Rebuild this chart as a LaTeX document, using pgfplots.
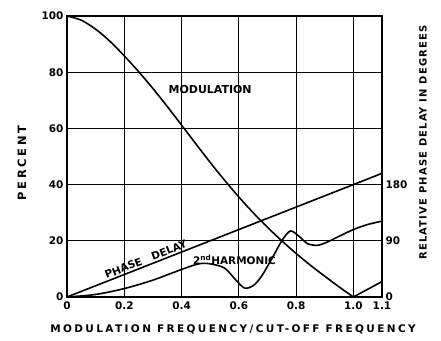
\documentclass[border=0pt]{standalone}
\usepackage{pgfplots}
\pgfplotsset{compat=1.18}
\usepackage{fontspec}
\setmainfont{DejaVu Sans}
\newfontfamily\widelbl[LetterSpace=23]{DejaVu Sans}
\newfontfamily\midlbl[LetterSpace=12]{DejaVu Sans}

% in percent of the left axis
\pgfplotstableread{
x y
0 100
0.05 98.5
0.1 95.3
0.15 91
0.2 85.8
0.25 80.2
0.3 74.2
0.35 67.8
0.4 61.2
0.45 54.5
0.5 47.9
0.55 41.6
0.6 35.6
0.65 30.0
0.7 24.8
0.75 20.0
0.8 15.5
0.85 11.3
0.9 7.4
0.95 3.6
1.0 0
}\modulation

\pgfplotstableread{
x y
1.0 0
1.1 5.5
}\modulationtail

\pgfplotstableread{
x y
0 0
0.1 0.9
0.2 3
0.3 6
0.4 9.8
0.46 11.8
0.5 11.8
0.55 10.3
0.59 6
0.62 3.2
0.65 4
0.68 7.5
0.72 14.5
0.75 20
0.78 23.5
0.81 21.6
0.84 19
0.875 18.4
0.91 19.6
0.95 21.6
1.0 24
1.05 25.8
1.1 27
}\harmonic

\pgfplotstableread{
x y
0 0
1.1 44
}\phasedelay

\begin{document}
\begin{tikzpicture}
\path[use as bounding box] (-67bp,-44bp) rectangle (374bp,297bp);
\begin{axis}[
    scale only axis, width=315bp, height=281bp,
    xmin=0, xmax=1.1, ymin=0, ymax=100,
    xtick={0,0.2,0.4,0.6,0.8,1.0,1.1},
    xticklabels={0,0.2,0.4,0.6,0.8,1.0,1.1},
    ytick={0,20,40,60,80,100},
    grid=major, major grid style={black, line width=0.8pt},
    major tick length=0pt,
    axis line style={line width=1.2pt},
    tick label style={font=\bfseries\fontsize{10.5}{12}\selectfont},
    xticklabel style={yshift=-1bp},
    /pgf/number format/assume math mode=true,
    clip=false
]
\addplot[line width=1.6pt, smooth, tension=0.5] table {\modulation};
\addplot[line width=1.6pt] table {\modulationtail};
\addplot[line width=1.6pt] table {\phasedelay};
\addplot[line width=1.6pt, smooth, tension=0.5] table {\harmonic};

\node[font=\bfseries\fontsize{11}{12}\selectfont] at (axis cs:0.5,74) {MODULATION};
\node[font=\bfseries\fontsize{10.5}{12}\selectfont, rotate=21.7, anchor=base] at (axis cs:0.28,12.2) {PHASE\ \ \ DELAY};
\node[font=\bfseries\fontsize{10.5}{12}\selectfont, anchor=base] at (axis cs:0.585,11.6) {2\textsuperscript{nd}HARMONIC};

\node[font=\bfseries\widelbl\fontsize{10.5}{12}\selectfont] at (rel axis cs:0.527,-0.117) {MODULATION FREQUENCY/CUT-OFF FREQUENCY};
\node[font=\bfseries\widelbl\fontsize{11.5}{12}\selectfont, rotate=90] at (rel axis cs:-0.143,0.477) {PERCENT};
\node[font=\bfseries\midlbl\fontsize{10}{12}\selectfont, rotate=90] at (rel axis cs:1.13,0.55) {RELATIVE PHASE DELAY IN DEGREES};
\end{axis}
\begin{axis}[
    scale only axis, width=315bp, height=281bp,
    xmin=0, xmax=1.1, ymin=0, ymax=450,
    axis x line=none, axis y line*=right,
    ytick={0,90,180},
    major tick length=0pt,
    axis line style={line width=1.2pt},
    tick label style={font=\bfseries\fontsize{10.5}{12}\selectfont},
    /pgf/number format/assume math mode=true
]
\end{axis}
\end{tikzpicture}
\end{document}
